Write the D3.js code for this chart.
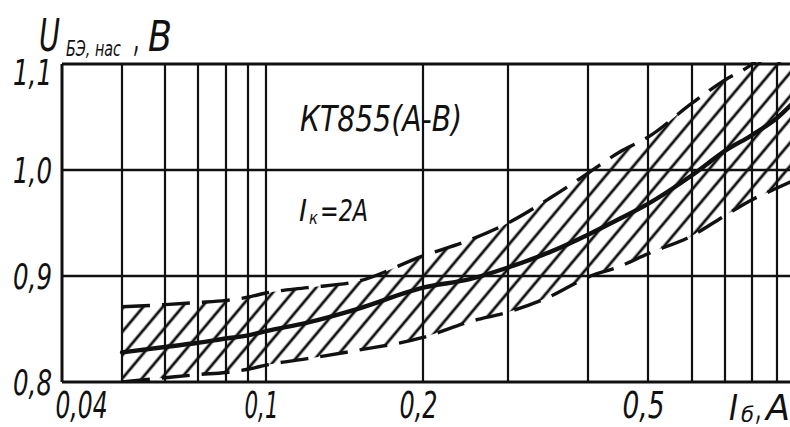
<!DOCTYPE html>
<html><head><meta charset="utf-8">
<script src="https://cdn.jsdelivr.net/npm/d3@7"></script>
<style>
html,body{margin:0;padding:0;background:#fff;}
svg{display:block;}
text{font-family:"DejaVu Sans Condensed","DejaVu Sans",sans-serif;font-style:italic;fill:#111;}
</style></head><body>
<svg id="chart" width="790" height="427"></svg>
<script>
// ---- data ----
const ibSamples = [0.05,0.06,0.07,0.08,0.09,0.1,0.12,0.15,0.2,0.25,0.3,0.35,0.4,0.45,0.5,0.6,0.7,0.8,0.9,1.0];
const uTypical  = [0.828,0.833,0.837,0.841,0.844,0.848,0.856,0.869,0.889,0.897,0.908,0.923,0.939,0.954,0.968,0.995,1.018,1.033,1.049,1.070];
const uUpper    = [0.871,0.873,0.875,0.877,0.880,0.884,0.889,0.895,0.919,0.934,0.950,0.974,0.997,1.017,1.031,1.063,1.085,1.100,1.125,1.150];
const uLower    = [0.800,0.804,0.807,0.809,0.812,0.816,0.822,0.830,0.842,0.857,0.866,0.881,0.899,0.909,0.921,0.938,0.957,0.972,0.983,0.993];
const xGridValues = [0.05,0.06,0.07,0.08,0.09,0.1,0.2,0.3,0.4,0.5,0.6,0.7,0.8,0.9];
const yGridValues = [0.9,1.0];
const xTickValues = [0.04,0.1,0.2,0.5];
const yTickValues = [0.8,0.9,1.0,1.1];
const xDomainKnots = [0.04,0.05,0.06,0.07,0.08,0.09,0.1,0.2,0.3,0.4,0.5,0.6,0.7,0.8,0.9,1.0];
const yDomain = [0.8,1.1];
const title = "КТ855(А-В)";

// ---- layout (hand-ruled log paper: calibrated knot positions) ----
const knotPx = [62,122,165,198,226,248,266,423,508,588,648,692,725,752,777,800];
const plot = {left:62, right:790, top:64, bottom:382};

const svg = d3.select("#chart");
svg.append("rect").attr("width",790).attr("height",427).attr("fill","#fff");

const x = d3.scaleLog().domain(xDomainKnots).range(knotPx);
const y = d3.scaleLinear().domain(yDomain).range([plot.bottom, plot.top]);

const defs = svg.append("defs");
defs.append("clipPath").attr("id","plotClip").append("rect")
  .attr("x",plot.left).attr("y",plot.top-2).attr("width",plot.right-plot.left+2).attr("height",plot.bottom-plot.top+2);
const pat = defs.append("pattern").attr("id","hatch").attr("patternUnits","userSpaceOnUse")
  .attr("width",15).attr("height",15).attr("patternTransform","rotate(40)");
pat.append("line").attr("x1",7).attr("y1",-2).attr("x2",7).attr("y2",17)
  .attr("stroke","#111").attr("stroke-width",2.8);

const pts = ibSamples.map((v,i)=>({ib:v, t:uTypical[i], hi:uUpper[i], lo:uLower[i]}));
const g = svg.append("g").attr("clip-path","url(#plotClip)");

// hatched band
g.append("path").datum(pts)
  .attr("d", d3.area().x(d=>x(d.ib)).y0(d=>y(d.lo)).y1(d=>y(d.hi)).curve(d3.curveMonotoneX))
  .attr("fill","url(#hatch)");

// grid
g.selectAll(".vg").data(xGridValues).join("line")
  .attr("x1",d=>x(d)).attr("x2",d=>x(d)).attr("y1",plot.top).attr("y2",plot.bottom)
  .attr("stroke","#111").attr("stroke-width",2.2);
g.selectAll(".hg").data(yGridValues).join("line")
  .attr("x1",plot.left).attr("x2",plot.right).attr("y1",d=>y(d)).attr("y2",d=>y(d))
  .attr("stroke","#111").attr("stroke-width",2.4);

// boundaries
const lineHi = d3.line().x(d=>x(d.ib)).y(d=>y(d.hi)).curve(d3.curveMonotoneX);
const lineLo = d3.line().x(d=>x(d.ib)).y(d=>y(d.lo)).curve(d3.curveMonotoneX);
const lineT  = d3.line().x(d=>x(d.ib)).y(d=>y(d.t)).curve(d3.curveMonotoneX);
g.append("path").datum(pts).attr("d",lineHi).attr("fill","none").attr("stroke","#111")
  .attr("stroke-width",3.4).attr("stroke-dasharray","28,12");
g.append("path").datum(pts).attr("d",lineLo).attr("fill","none").attr("stroke","#111")
  .attr("stroke-width",3.4).attr("stroke-dasharray","28,12");
g.append("path").datum(pts).attr("d",lineT).attr("fill","none").attr("stroke","#111")
  .attr("stroke-width",4.4).attr("stroke-linecap","round");

// frame (top, left, bottom)
[[plot.left,plot.top,plot.right,plot.top],[plot.left,plot.bottom,plot.right,plot.bottom],[plot.left,plot.top,plot.left,plot.bottom]]
  .forEach(([a,b,c,d])=>svg.append("line").attr("x1",a).attr("y1",b).attr("x2",c).attr("y2",d)
    .attr("stroke","#111").attr("stroke-width",3));

const comma = d => String(d).replace(".", ",");

// axes
const xLabelW = {0.04:52, 0.1:34, 0.2:38, 0.5:42};
const xAxis = svg.append("g").attr("transform",`translate(0,${plot.bottom})`)
  .call(d3.axisBottom(x).tickValues(xTickValues).tickSize(0).tickPadding(10).tickFormat(comma));
xAxis.select(".domain").remove();
xAxis.selectAll("text").attr("font-size",37).attr("fill","#111").attr("font-family",null)
  .attr("text-anchor",d=>d===0.04?"start":"middle")
  .attr("dx",d=>d===0.04?-7:-5)
  .attr("textLength",d=>xLabelW[d]).attr("lengthAdjust","spacingAndGlyphs");

const yAxis = svg.append("g").attr("transform",`translate(${plot.left},0)`)
  .call(d3.axisLeft(y).tickValues(yTickValues).tickSize(0).tickPadding(10).tickFormat(d=>d.toFixed(1).replace(".",",")));
yAxis.select(".domain").remove();
yAxis.selectAll("text").attr("font-size",36).attr("fill","#111").attr("font-family",null)
  .attr("dy",d=>d===1.1?"0.58em":"0.36em")
  .attr("textLength",39).attr("lengthAdjust","spacingAndGlyphs");

function label(parent, txt, px, py, fs, w){
  const t = parent.append("text").attr("x",px).attr("y",py).attr("font-size",fs).text(txt);
  if (w) t.attr("textLength",w).attr("lengthAdjust","spacingAndGlyphs");
  return t;
}
// titles
const yt = svg.append("g");
label(yt,"U",39,51,44,21);
label(yt,"БЭ, нас",66,56,22,55);
label(yt,",",134,51,40,6);
label(yt,"В",148,51,42,24);

const xt = svg.append("g");
label(xt,"I",729,420,36,9);
label(xt,"б",741,422,21,13);
label(xt,",",756,420,36,6);
label(xt,"А",766,420,36,24);

// annotations
label(svg,title,300,131,36,162);
label(svg,"I",299,221,30,8);
label(svg,"к",309,224,17,9);
label(svg,"=2А",320,221,30,48);
</script>
</body></html>
